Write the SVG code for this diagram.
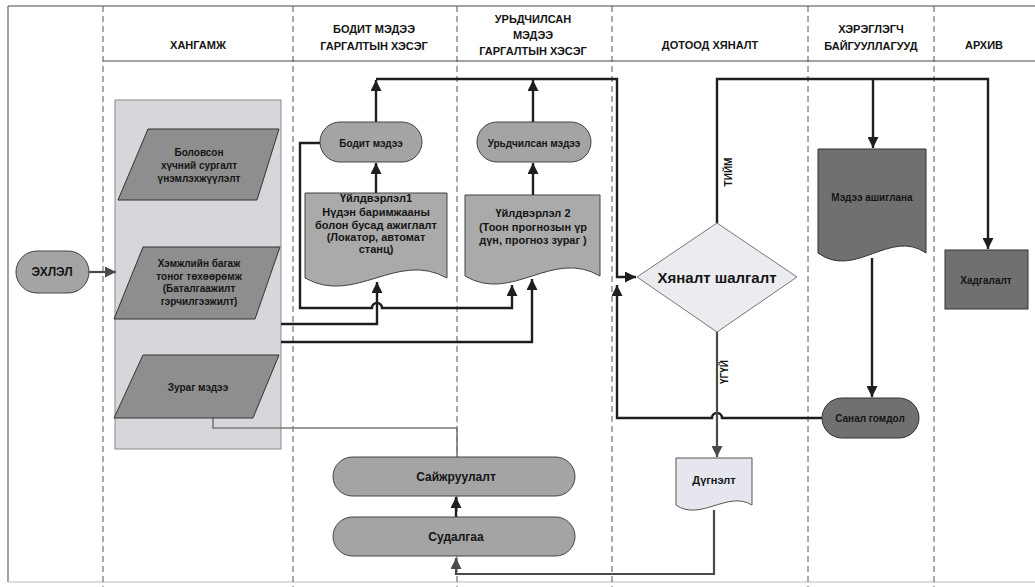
<svg xmlns="http://www.w3.org/2000/svg" width="1035" height="587" viewBox="0 0 1035 587">
<style>
text{font-family:"Liberation Sans",Arial,sans-serif;font-weight:bold;fill:#151515;text-anchor:middle}
.hd{font-size:11px}
.t10{font-size:10px}
.t11{font-size:11px}
.t12{font-size:12px}
.lane{stroke:#555;stroke-width:1;stroke-dasharray:6 4;fill:none}
.frame{stroke:#444;stroke-width:1;fill:none}
.c{fill:none;stroke:#1e1e1e;stroke-width:2.4}
.cg{fill:none;stroke:#4a4a4a;stroke-width:2.2}
.cl{fill:none;stroke:#7a7a7a;stroke-width:1.6}
.para{fill:#8e8e8e;stroke:#333;stroke-width:1}
.doc{fill:#aaaaaa;stroke:#444;stroke-width:1}
.pill{fill:#a4a4a4;stroke:#444;stroke-width:1}
.dark{fill:#707070;stroke:#333;stroke-width:1}
</style>
<defs>
<marker id="ah" viewBox="0 0 10 10" refX="10" refY="5" markerWidth="11" markerHeight="11" markerUnits="userSpaceOnUse" orient="auto"><path d="M0,0 L10,5 L0,10 Z" fill="#1e1e1e"/></marker>
<marker id="ahg" viewBox="0 0 10 10" refX="10" refY="5" markerWidth="11" markerHeight="11" markerUnits="userSpaceOnUse" orient="auto"><path d="M0,0 L10,5 L0,10 Z" fill="#4a4a4a"/></marker>
</defs>
<rect width="1035" height="587" fill="#ffffff"/>
<g id="frame">
<line class="frame" x1="8" y1="6" x2="1035" y2="6"/>
<line class="frame" x1="8" y1="6" x2="8" y2="582"/>
<line x1="8" y1="582" x2="1035" y2="582" stroke="#bbb" stroke-width="1"/>
<line class="frame" x1="103" y1="61" x2="1035" y2="61"/>
<line class="lane" x1="103" y1="6" x2="103" y2="587"/>
<line class="lane" x1="293" y1="6" x2="293" y2="587"/>
<line class="lane" x1="457" y1="6" x2="457" y2="587"/>
<line class="lane" x1="612" y1="6" x2="612" y2="587"/>
<line class="lane" x1="808" y1="6" x2="808" y2="587"/>
<line class="lane" x1="934" y1="6" x2="934" y2="587"/>
</g>
<g id="headers">
<text class="hd" x="198" y="49">ХАНГАМЖ</text>
<text class="hd" x="374" y="33">БОДИТ МЭДЭЭ</text>
<text class="hd" x="374" y="50">ГАРГАЛТЫН ХЭСЭГ</text>
<text class="hd" x="533" y="23">УРЬДЧИЛСАН</text>
<text class="hd" x="533" y="39">МЭДЭЭ</text>
<text class="hd" x="533" y="55">ГАРГАЛТЫН ХЭСЭГ</text>
<text class="hd" x="710" y="49">ДОТООД ХЯНАЛТ</text>
<text class="hd" x="871" y="33">ХЭРЭГЛЭГЧ</text>
<text class="hd" x="871" y="50">БАЙГУУЛЛАГУУД</text>
<text class="hd" x="984" y="49">АРХИВ</text>
</g>
<g id="container">
<rect x="115" y="100" width="166" height="349" fill="#d6d6db" stroke="#8a8a8a" stroke-width="1"/>
</g>
<g id="connectors">
<line x1="89" y1="272" x2="116" y2="272" class="cg" marker-end="url(#ahg)"/>
<path class="c" d="M376,122 V80" marker-end="url(#ah)"/>
<path class="c" d="M533,122 V80" marker-end="url(#ah)"/>
<path class="c" d="M376,79 H617 V277 H636" marker-end="url(#ah)"/>
<path class="c" d="M376,193 V163" marker-end="url(#ah)"/>
<path class="c" d="M533,195 V163" marker-end="url(#ah)"/>
<path class="c" d="M320,143 H300 V308 H372 a5,5 0 0 1 10,0 H512 V285" marker-end="url(#ah)"/>
<path class="c" d="M281,324 H377 V282" marker-end="url(#ah)"/>
<path class="c" d="M281,342 H532 V279" marker-end="url(#ah)"/>
<path class="c" d="M717,223 V79 H988 V249" marker-end="url(#ah)"/>
<path class="c" d="M873,79 V148" marker-end="url(#ah)"/>
<path class="c" d="M872,258 V397" marker-end="url(#ah)"/>
<path class="c" d="M822,418 H722 a5,5 0 0 0 -10,0 H617 V285" marker-end="url(#ah)"/>
<path class="cg" d="M717,332 V457" marker-end="url(#ahg)"/>
<path class="cg" d="M714,510 V574 H456 V558" marker-end="url(#ahg)"/>
<path class="c" d="M456,517 V497" marker-end="url(#ah)"/>
<path class="cl" d="M213,418 V428 H457 V457"/>
<text class="t10" transform="translate(732,172) rotate(-90)" font-size="9">ТИЙМ</text>
<text class="t10" transform="translate(728,372) rotate(-90)" font-size="9">ҮГҮЙ</text>
</g>
<g id="start">
<rect x="16" y="251" width="73" height="42" rx="21" class="pill"/>
<text class="t12" x="52" y="276">ЭХЛЭЛ</text>
</g>
<g id="p-training">
<polygon class="para" points="148,129 279,129 257,200 118,200"/>
<text class="t10" x="199" y="156">Боловсон</text>
<text class="t10" x="199" y="169">хүчний сургалт</text>
<text class="t10" x="199" y="182">үнэмлэхжүүлэлт</text>
</g>
<g id="p-instruments">
<polygon class="para" points="143,247 280,247 255,319 114,319"/>
<text class="t10" x="199" y="267">Хэмжлийн багаж</text>
<text class="t10" x="199" y="280">тоног төхөөрөмж</text>
<text class="t10" x="199" y="292">(Баталгаажилт</text>
<text class="t10" x="199" y="305">гэрчилгээжилт)</text>
</g>
<g id="p-image">
<polygon class="para" points="143,355 279,355 253,418 114,418"/>
<text class="t10" x="198" y="391">Зураг мэдээ</text>
</g>
<g id="doc1">
<path class="doc" d="M305,193 H447 V278 C397,250 355,306 305,278 Z"/>
<text class="t11" x="376" y="202">Үйлдвэрлэл1</text>
<text class="t11" x="376" y="216">Нүдэн баримжааны</text>
<text class="t11" x="376" y="229">болон бусад ажиглалт</text>
<text class="t11" x="376" y="241">(Локатор, автомат</text>
<text class="t11" x="376" y="253">станц)</text>
</g>
<g id="doc2">
<path class="doc" d="M465,195 H600 V276 C552,248 512,304 465,276 Z"/>
<text class="t11" x="533" y="217">Үйлдвэрлэл 2</text>
<text class="t11" x="533" y="231">(Тоон прогнозын үр</text>
<text class="t11" x="533" y="244">дүн, прогноз зураг )</text>
</g>
<g id="actual">
<rect x="320" y="122" width="102" height="40" rx="20" class="pill"/>
<text class="t10" x="371" y="147">Бодит мэдээ</text>
</g>
<g id="forecast">
<rect x="477" y="122" width="114" height="40" rx="20" class="pill"/>
<text class="t10" x="534" y="147">Урьдчилсан мэдээ</text>
</g>
<g id="decision">
<polygon points="637,277 717,223 797,277 717,332" fill="#ebebf0" stroke="#777" stroke-width="1"/>
<text x="717" y="283" font-size="15">Хяналт шалгалт</text>
</g>
<g id="use">
<path class="dark" d="M818,149 H926 V253 C890,228 855,280 818,253 Z"/>
<text class="t10" x="872" y="201">Мэдээ ашиглана</text>
</g>
<g id="archive">
<rect x="945" y="250" width="83" height="59" class="dark"/>
<text class="t10" x="986" y="284">Хадгалалт</text>
</g>
<g id="feedback">
<rect x="822" y="398" width="97" height="40" rx="20" class="dark"/>
<text class="t10" x="870" y="422">Санал гомдол</text>
</g>
<g id="conclusion">
<path d="M676,458 H752 V505 C728,490 700,522 676,505 Z" fill="#e6e6ee" stroke="#555" stroke-width="1"/>
<text class="t11" x="714" y="484">Дүгнэлт</text>
</g>
<g id="improve">
<rect x="333" y="457" width="242" height="39" rx="19.5" class="pill"/>
<text class="t12" x="456" y="481">Сайжруулалт</text>
</g>
<g id="research">
<rect x="333" y="517" width="242" height="39" rx="19.5" class="pill"/>
<text class="t12" x="456" y="541">Судалгаа</text>
</g>
</svg>
